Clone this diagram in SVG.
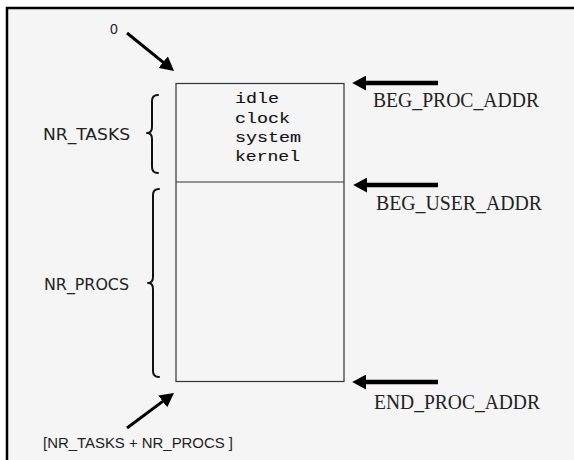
<svg xmlns="http://www.w3.org/2000/svg" width="574" height="460" viewBox="0 0 574 460">
<style>
.bg{fill:#f5f5f5}
.frame{stroke:#000;stroke-width:2.5;fill:none}
.box{fill:none;stroke:#333;stroke-width:1.2}
.mono{font-family:"Liberation Mono",monospace;font-size:14px;fill:#111;stroke:#111;stroke-width:0.12}
.hand{font-family:"DejaVu Sans","Liberation Sans",sans-serif;font-size:15px;fill:#222}
.serif{font-family:"Liberation Serif",serif;font-size:20px;fill:#222}
.sans{font-family:"Liberation Sans",sans-serif;font-size:14px;fill:#222}
.brace{fill:none;stroke:#111;stroke-width:2;stroke-linecap:round;stroke-linejoin:round}
.thin{stroke:#000;stroke-width:3;fill:none}
.thick{stroke:#000;stroke-width:4.5;fill:none}
</style>
<defs>
<marker id="ah" viewBox="0 0 10 10" refX="3" refY="5" markerWidth="14" markerHeight="15" markerUnits="userSpaceOnUse" orient="auto" preserveAspectRatio="none">
<path d="M0,0 L10,5 L0,10 z" fill="#000"/>
</marker>
</defs>
<rect x="0" y="0" width="574" height="460" fill="#fff"/>
<rect class="bg" x="7" y="8" width="567" height="452"/>
<path class="frame" d="M7,460 L7,8 L574,8"/>

<g id="memory">
<rect class="box" x="176" y="83.5" width="168" height="298"/>
<line class="box" x1="176" y1="182" x2="344" y2="182"/>
<text class="mono" x="235" y="103" textLength="44" lengthAdjust="spacingAndGlyphs">idle</text>
<text class="mono" x="235" y="122.5" textLength="55" lengthAdjust="spacingAndGlyphs">clock</text>
<text class="mono" x="235" y="141.5" textLength="66" lengthAdjust="spacingAndGlyphs">system</text>
<text class="mono" x="235" y="161" textLength="65" lengthAdjust="spacingAndGlyphs">kernel</text>
</g>

<g id="zero">
<text class="sans" x="110" y="34" font-size="12">0</text>
</g>

<g id="nr_tasks">
<text class="hand" x="43" y="140" textLength="87" lengthAdjust="spacingAndGlyphs">NR_TASKS</text>
<path class="brace" d="M158,95 Q152,95 152,101 L152,127 Q152,133 147,133 Q152,133 152,139 L152,167 Q152,173 158,173"/>
</g>

<g id="nr_procs">
<text class="hand" x="44" y="290" textLength="85" lengthAdjust="spacingAndGlyphs">NR_PROCS</text>
<path class="brace" d="M159,189 Q153,189 153,195 L153,277 Q153,283 148,283 Q153,283 153,289 L153,371 Q153,377 159,377"/>
</g>

<g id="sum">
<text class="sans" x="43" y="448" textLength="190" lengthAdjust="spacingAndGlyphs">[NR_TASKS + NR_PROCS ]</text>
</g>

<g id="beg_proc">
<text class="serif" x="373" y="107" textLength="166" lengthAdjust="spacingAndGlyphs">BEG_PROC_ADDR</text>
</g>
<g id="beg_user">
<text class="serif" x="376" y="210" textLength="166" lengthAdjust="spacingAndGlyphs">BEG_USER_ADDR</text>
</g>
<g id="end_proc">
<text class="serif" x="374" y="409" textLength="166" lengthAdjust="spacingAndGlyphs">END_PROC_ADDR</text>
</g>

<g id="connectors">
<line class="thin" x1="127" y1="33" x2="166.4" y2="64.8" marker-end="url(#ah)"/>
<line class="thin" x1="127" y1="428" x2="166.1" y2="398.9" marker-end="url(#ah)"/>
<line class="thick" x1="438" y1="83" x2="362" y2="83" marker-end="url(#ah)"/>
<line class="thick" x1="438" y1="185" x2="363" y2="185" marker-end="url(#ah)"/>
<line class="thick" x1="438" y1="382" x2="362" y2="382" marker-end="url(#ah)"/>
</g>
</svg>
